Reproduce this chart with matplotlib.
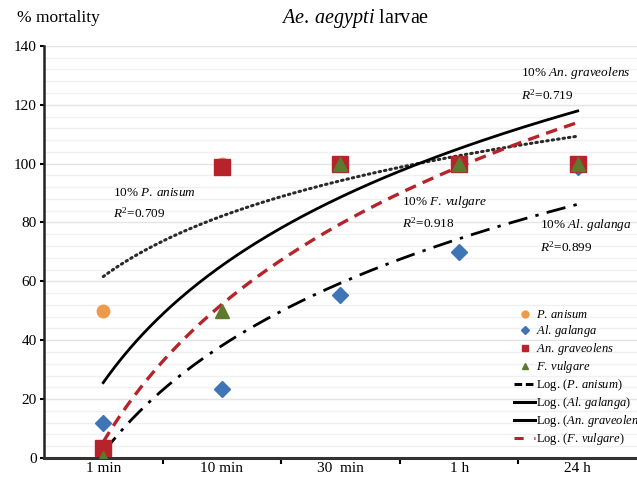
import matplotlib.pyplot as plt
from matplotlib.lines import Line2D
import numpy as np

plt.rcParams['font.family'] = 'Liberation Serif'
plt.rcParams['mathtext.fontset'] = 'custom'
plt.rcParams['mathtext.rm'] = 'Liberation Serif'
plt.rcParams['mathtext.it'] = 'Liberation Serif:italic'

# data
times = ['1 min', '10 min', '30  min', '1 h', '24 h']
p_anisum = [50, 100, 100, 100, 100]
al_galanga = [12, 23.5, 55.5, 70, 99]
an_graveolens = [3.5, 99, 100, 100, 100]
f_vulgare = [0, 50, 100, 100, 100]

c_orange = '#EE9A4D'
c_blue = '#3F75B5'
c_red = '#B7232A'
c_green = '#5B7A2E'

fig = plt.figure(figsize=(6.37, 4.78), dpi=100)
ax = fig.add_axes([0.069, 0.042, 0.931, 0.862])

pos = np.arange(len(times))

# horizontal grid, fine every 4, darker every 20
for v in np.arange(4, 141, 4):
    col = '#e4e4e4' if v % 20 == 0 else '#f0f0f0'
    ax.axhline(v, color=col, lw=1.0, zorder=0)

# log trendlines (Excel style, x = 1..n)
xs = np.linspace(1, 5, 200)


def log_fit(y):
    a, b = np.polyfit(np.log(np.arange(1, 6)), y, 1)
    return a * np.log(xs) + b


ax.plot(xs - 1, log_fit(p_anisum), color='#2a2a2a', lw=2.2,
        linestyle=(0, (0.5, 1.3)), dash_capstyle='round', zorder=2)
ax.plot(xs - 1, log_fit(al_galanga), color='black', lw=2.0,
        linestyle=(0, (7, 3, 1.2, 3)), zorder=2)
ax.plot(xs - 1, log_fit(an_graveolens), color='black', lw=2.0, zorder=2)
ax.plot(xs - 1, log_fit(f_vulgare), color=c_red, lw=2.4,
        linestyle=(0, (3.5, 2.2)), zorder=2)

# points
ax.plot(pos, p_anisum, 'o', color=c_orange, ms=9, zorder=3)
ax.plot(pos, al_galanga, 'D', color=c_blue, ms=8, zorder=3)
ax.plot(pos, an_graveolens, 's', color=c_red, ms=11, zorder=3)
ax.plot(pos, f_vulgare, '^', color=c_green, ms=10, zorder=3)

ax.set_xlim(-0.5, 4.5)
ax.set_ylim(0, 140)
ax.set_yticks(np.arange(0, 141, 20))
ax.set_xticks(pos)
ax.set_xticklabels(times, fontsize=11)
ax.set_xticks(np.arange(0.5, 4.5, 1), minor=True)
ax.tick_params(axis='x', which='major', length=0, pad=3)
ax.tick_params(axis='x', which='minor', length=4, width=1.5, direction='out')
ax.tick_params(axis='y', labelsize=11, length=3, width=1.5, direction='out', pad=2)

for s in ['top', 'right']:
    ax.spines[s].set_visible(False)
ax.spines['left'].set_color('#222222')
ax.spines['left'].set_linewidth(1.8)
ax.spines['bottom'].set_color('#333333')
ax.spines['bottom'].set_linewidth(2.2)

fig.text(0.027, 0.962, '% mortality', fontsize=12.5, va='center', ha='left')
fig.text(0.557, 0.962, r'$\mathit{Ae.\>aegypti}$ larvae', fontsize=14.5,
         va='center', ha='center')

ann = 9.5
ax.text(0.08, 90, r'10% $\mathit{P.\>anisum}$', fontsize=ann, va='center')
ax.text(0.08, 83.2, r'$R^2$=0.709', fontsize=ann, va='center')
ax.text(3.52, 130.8, r'10% $\mathit{An.\>graveolens}$', fontsize=ann, va='center')
ax.text(3.52, 123.3, r'$R^2$=0.719', fontsize=ann, va='center')
ax.text(2.52, 87, r'10% $\mathit{F.\>vulgare}$', fontsize=ann, va='center')
ax.text(2.52, 79.8, r'$R^2$=0.918', fontsize=ann, va='center')
ax.text(3.68, 79.2, r'10% $\mathit{Al.\>galanga}$', fontsize=ann, va='center')
ax.text(3.68, 71.7, r'$R^2$=0.899', fontsize=ann, va='center')

handles = [
    Line2D([], [], marker='o', color=c_orange, ls='none', ms=5),
    Line2D([], [], marker='D', color=c_blue, ls='none', ms=4),
    Line2D([], [], marker='s', color=c_red, ls='none', ms=5),
    Line2D([], [], marker='^', color=c_green, ls='none', ms=5),
    Line2D([], [], color='black', lw=2.2, ls=(0, (2.5, 1.2, 2.5, 1.2, 0.6, 1.2))),
    Line2D([], [], color='black', lw=2.2),
    Line2D([], [], color='black', lw=2.2),
    Line2D([], [], color=c_red, lw=2.2, ls=(0, (3, 3.5))),
]
labels = [
    r'$\mathit{P.\>anisum}$',
    r'$\mathit{Al.\>galanga}$',
    r'$\mathit{An.\>graveolens}$',
    r'$\mathit{F.\>vulgare}$',
    r'Log. ($\mathit{P.\>anisum}$)',
    r'Log. ($\mathit{Al.\>galanga}$)',
    r'Log. ($\mathit{An.\>graveolens}$)',
    r'Log. ($\mathit{F.\>vulgare}$)',
]
fig.legend(handles, labels, loc='upper left', bbox_to_anchor=(0.797, 0.366),
           frameon=False, fontsize=9, handlelength=1.7, handletextpad=0.1,
           labelspacing=0.16, borderpad=0)

fig.savefig('out.png', dpi=100)
